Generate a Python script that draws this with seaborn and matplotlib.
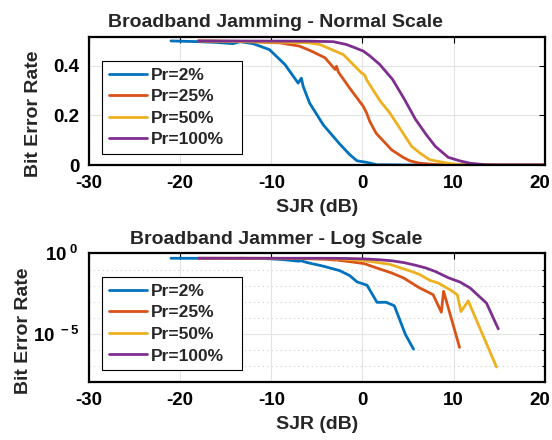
import numpy as np
import pandas as pd
import matplotlib
matplotlib.use("Agg")
import matplotlib.pyplot as plt
from matplotlib.ticker import FixedLocator, FixedFormatter, NullFormatter
from matplotlib.transforms import ScaledTranslation
import seaborn as sns

# SJR (dB) and measured bit error rate for each jammer duty ratio
sjr_2 = [-21, -18, -16, -14.2, -13.4, -12, -10.2, -8.5, -7.05, -6.7, -6.5, -5.8,
         -4.3, -2.5, -1.4, -0.6, 0.5, 1.6, 2.6, 3.5, 4.7, 5.6, 6.5, 20]
ber_2 = [0.5, 0.497, 0.494, 0.489, 0.497, 0.489, 0.465, 0.405, 0.33, 0.35, 0.317, 0.25,
         0.162, 0.085, 0.042, 0.017, 0.0105, 0.0009, 0.00091, 0.00055, 9.3e-6, 1.1e-6, 0, 0]

sjr_25 = [-18, -13, -9, -6.9, -5.6, -4.1, -3.0, -2.85, -2.65, -1.4, 0.1, 0.45, 0.8,
          1.5, 3.2, 4.5, 5.2, 6.2, 7.75, 8.65, 8.9, 10.65, 11.5, 20]
ber_25 = [0.5, 0.498, 0.492, 0.479, 0.459, 0.432, 0.385, 0.398, 0.375, 0.31, 0.236, 0.21, 0.176,
          0.128, 0.061, 0.03, 0.017, 0.0075, 0.0027, 0.00022, 0.0044, 1.4e-6, 0, 0]

sjr_50 = [-18, -6, -4.7, -2.1, -0.1, 0.26, 0.45, 1.9, 3.0, 5.4, 6.3, 7.4, 8.3,
          9.6, 10.4, 10.8, 11.6, 14.7, 15.5, 20]
ber_50 = [0.5, 0.493, 0.486, 0.445, 0.371, 0.362, 0.344, 0.26, 0.21, 0.075, 0.048, 0.021, 0.0145,
          0.0055, 0.0027, 0.00024, 0.0011, 8.5e-8, 0, 0]

sjr_100 = [-18, -6, -3.2, -1.8, -1.0, 0.1, 0.8, 1.9, 3.3, 4.6, 5.8, 7.0, 8.0,
           9.4, 10.7, 11.8, 13.6, 14.9, 16, 20]
ber_100 = [0.5, 0.499, 0.497, 0.486, 0.475, 0.459, 0.44, 0.405, 0.345, 0.265, 0.185, 0.122, 0.075,
           0.031, 0.0165, 0.0071, 0.00081, 2e-5, 0, 0]

series_labels = ["Pr=2%", "Pr=25%", "Pr=50%", "Pr=100%"]
colors = ["#0072BD", "#D95319", "#EDB120", "#7E2F8E"]

frames = []
for lab, x, y in zip(series_labels, [sjr_2, sjr_25, sjr_50, sjr_100],
                     [ber_2, ber_25, ber_50, ber_100]):
    frames.append(pd.DataFrame({"SJR": x, "BER": y, "Pr": lab}))
df = pd.concat(frames, ignore_index=True)

sns.set_style("white")
plt.rcParams["font.family"] = ["Liberation Sans", "DejaVu Sans"]
plt.rcParams["font.weight"] = "bold"
plt.rcParams["axes.unicode_minus"] = False
plt.rcParams["mathtext.fontset"] = "custom"
plt.rcParams["mathtext.rm"] = "Liberation Sans:bold"
plt.rcParams["mathtext.bf"] = "Liberation Sans:bold"
plt.rcParams["mathtext.it"] = "Liberation Sans:bold"

fig = plt.figure(figsize=(5.52, 4.4), dpi=100)
ax1 = fig.add_axes([0.161, 0.625, 0.826, 0.291])
ax2 = fig.add_axes([0.161, 0.132, 0.826, 0.292])

palette = dict(zip(series_labels, colors))
LW = 2.0
TICK_FS = 13.5
LABEL_FS = 14
TITLE_FS = 14
LEG_FS = 12.5
TITLE_X = 0.41  # titles sit centred on the figure rather than the axes


def style_axes(ax, ylabel_pad):
    for sp in ax.spines.values():
        sp.set_linewidth(1.6)
        sp.set_color("black")
    ax.tick_params(axis="both", which="both", direction="in", top=True, right=True,
                   length=4, width=0.8, labelsize=TICK_FS, pad=7, colors="black")
    ax.set_xlim(-30, 20)
    ax.xaxis.set_major_locator(FixedLocator([-30, -20, -10, 0, 10, 20]))
    ax.set_xlabel("SJR (dB)", fontsize=LABEL_FS, fontweight="bold", labelpad=5)
    ax.set_ylabel("Bit Error Rate", fontsize=LABEL_FS, fontweight="bold", labelpad=ylabel_pad)
    ax.yaxis.label.set_y(0.40)
    # keep the right-most x tick label inside the figure
    last = ax.xaxis.get_major_ticks()[-1].label1
    last.set_transform(last.get_transform() + ScaledTranslation(-5 / 100, 0, fig.dpi_scale_trans))


def add_legend(ax, anchor_y):
    leg = ax.legend(handles=ax.get_lines()[:4], labels=series_labels, loc="upper left",
                    bbox_to_anchor=(0.028, anchor_y, 0.308, 0.0), mode="expand",
                    borderaxespad=0, prop={"weight": "bold", "size": LEG_FS}, fancybox=False,
                    edgecolor="black", framealpha=1, handlelength=2.2,
                    handletextpad=0.25, labelspacing=0.37, borderpad=0.4)
    leg.get_frame().set_linewidth(0.8)


# Linear scale panel
sns.lineplot(data=df, x="SJR", y="BER", hue="Pr", palette=palette, hue_order=series_labels,
             sort=False, estimator=None, units="Pr", linewidth=LW, legend=False, ax=ax1)
ax1.set_ylim(0, 0.516)
ax1.yaxis.set_major_locator(FixedLocator([0, 0.2, 0.4]))
ax1.yaxis.set_major_formatter(FixedFormatter(["0", "0.2", "0.4"]))
ax1.grid(True, which="major", color="#e3e3e3", linewidth=0.8)
ax1.set_axisbelow(True)
ax1.set_title("Broadband Jamming - Normal Scale", fontsize=TITLE_FS, fontweight="bold",
              pad=7, x=TITLE_X)
add_legend(ax1, 0.815)

# Log scale panel: only positive error rates can be shown
df_pos = df[df["BER"] > 0]
sns.lineplot(data=df_pos, x="SJR", y="BER", hue="Pr", palette=palette, hue_order=series_labels,
             sort=False, estimator=None, units="Pr", linewidth=LW, legend=False, ax=ax2)
ax2.set_yscale("log")
ax2.set_ylim(1e-8, 1)
ax2.yaxis.set_major_locator(FixedLocator([1e-5, 1e0]))
ax2.yaxis.set_major_formatter(FixedFormatter([r"$\mathbf{10^{\ -5}}$", r"$\mathbf{10^{\ 0}}$"]))
ax2.yaxis.set_minor_locator(FixedLocator([1e-7, 1e-6, 1e-4, 1e-3, 1e-2, 1e-1]))
ax2.yaxis.set_minor_formatter(NullFormatter())
ax2.grid(True, which="major", color="#e3e3e3", linewidth=0.8)
ax2.grid(True, which="minor", axis="y", color="#d0d0d0", linewidth=0.8, linestyle=(0, (1, 3)))
ax2.set_axisbelow(True)
ax2.set_title("Broadband Jammer - Log Scale", fontsize=TITLE_FS, fontweight="bold",
              pad=7, x=TITLE_X)
add_legend(ax2, 0.819)

style_axes(ax1, 8.2)
style_axes(ax2, 0.8)
ax2.tick_params(axis="y", which="minor", length=2)

fig.savefig("out.png", dpi=100)
